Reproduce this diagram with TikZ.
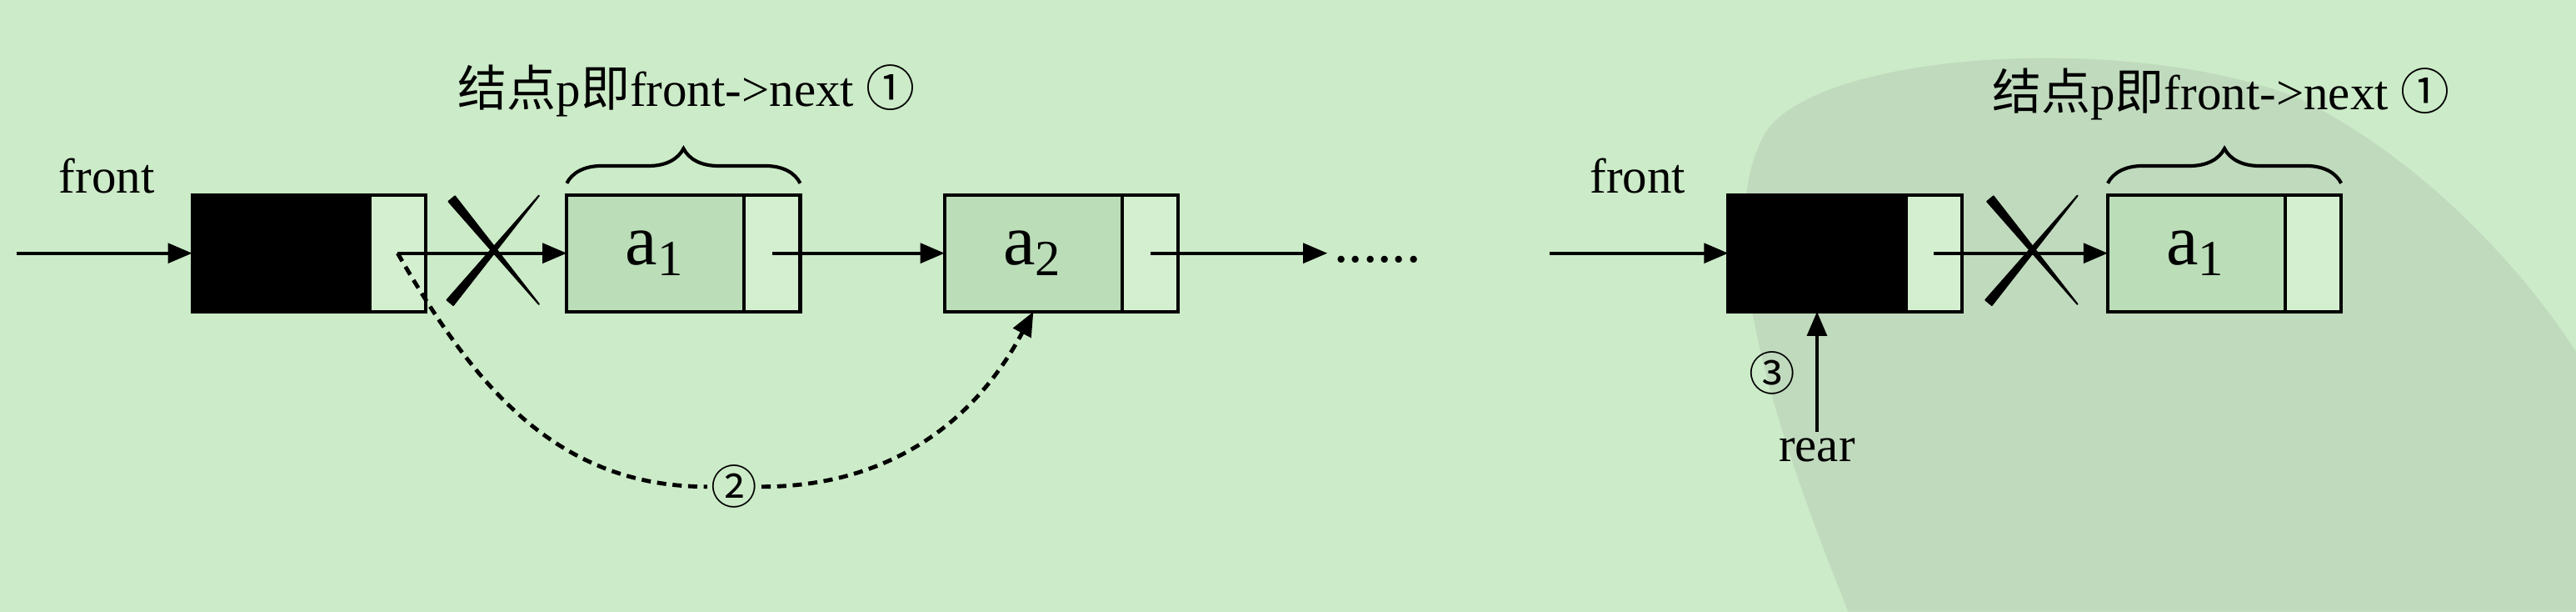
\documentclass[tikz,border=0pt]{standalone}
\usepackage{fontspec}
\setmainfont{Liberation Serif}
\newfontfamily\cjk{Noto Sans CJK SC}
\usepackage{tikz}
\usetikzlibrary{
  calc,
  positioning,
  arrows.meta,
  decorations.pathreplacing
}
\definecolor{bgcol}{RGB}{204,235,200}
\definecolor{wmcol}{RGB}{192,218,189}
\definecolor{datacol}{RGB}{187,221,184}
\definecolor{ptrcol}{RGB}{212,238,208}

\begin{document}
\begin{tikzpicture}[x=0.01cm, y=0.01cm]
  \tikzset{
    cell/.style={draw, line width=0.6pt, minimum height=0.71cm,
      inner sep=0pt, outer sep=0pt},
    headcell/.style={cell, fill=black, minimum width=1.08cm},
    datacell/.style={cell, fill=datacol, minimum width=1.08cm,
      font=\fontsize{12.5}{14}\selectfont},
    ptrcell/.style={cell, fill=ptrcol, minimum width=0.34cm},
    link/.style={-{Triangle[length=4.2pt,width=3.4pt]}, line width=0.6pt},
    dashlink/.style={line width=0.7pt, dash pattern=on 1.6pt off 1.1pt},
    lbl/.style={font=\fontsize{8.5}{10}\selectfont, inner sep=1pt},
    num/.style={font=\cjk\fontsize{8}{9}\selectfont, inner sep=0.5pt},
    bracket/.style={decorate, decoration={brace, amplitude=6pt},
      line width=0.6pt},
  }

  \fill[bgcol] (0,0) rectangle (1568,-372);
  \useasboundingbox (0,0) rectangle (1568,-372);
  % watermark
  \fill[wmcol] (1125,-372) .. controls (1080,-260) and (1040,-140) .. (1075,-80)
    .. controls (1110,-30) and (1300,-20) .. (1400,-60)
    .. controls (1480,-100) and (1540,-170) .. (1568,-214)
    -- (1568,-372) -- cycle;

  % left: p = front->next, then front->next = p->next
  \node[headcell] (h1) at (171,-154) {};
  \node[ptrcell, right=0pt of h1] (h1p) {};
  \node[datacell, anchor=west] (a1) at (345,-154) {a\textsubscript{1}};
  \node[ptrcell, right=0pt of a1] (a1p) {};
  \node[datacell, anchor=west] (a2) at (575,-154) {a\textsubscript{2}};
  \node[ptrcell, right=0pt of a2] (a2p) {};
  \node[lbl, anchor=west, font=\fontsize{10}{12}\selectfont] (more)
    at (808,-158) {......};

  \node[lbl] (front1) at (65,-107) {front};
  \coordinate (in1) at (10,-154);
  \draw[link] (in1) -- (h1.west);
  \draw[link] (h1p.center) -- (a1.west);
  \draw[link] (a1p.center) -- (a2.west);
  \draw[link] (a2p.center) -- (a2p.center -| more.west);

  \draw[bracket] ([yshift=2pt]a1.north west) -- ([yshift=2pt]a1p.north east);
  \node[lbl] (p1) at (418,-55) {{\cjk 结点}p{\cjk 即}front->next {\cjk ①}};

  \node[num] (n2) at (447,-296) {②};
  \draw[dashlink] (h1p.center) to[out=-60,in=180] (n2.west);
  \draw[dashlink, -{Triangle[length=4.2pt,width=3.4pt]}]
    (n2.east) to[out=0,in=-118] (a2.south);

  % right: only one node left, rear = front
  \node[headcell] (h2) at (1106,-154) {};
  \node[ptrcell, right=0pt of h2] (h2p) {};
  \node[datacell, anchor=west] (b1) at (1283,-154) {a\textsubscript{1}};
  \node[ptrcell, right=0pt of b1] (b1p) {};

  \node[lbl] (front2) at (997,-107) {front};
  \coordinate (in2) at (943,-154);
  \draw[link] (in2) -- (h2.west);
  \draw[link] (h2p.center) -- (b1.west);

  \draw[bracket] ([yshift=2pt]b1.north west) -- ([yshift=2pt]b1p.north east);
  \node[lbl] (p2) at (1352,-57) {{\cjk 结点}p{\cjk 即}front->next {\cjk ①}};

  \node[lbl] (rear) at (1106,-274) {rear};
  \draw[link] (rear.north) -- (h2.south);
  \node[num] (n3) at (1079,-227) {③};

  % crossed-out links
  \coordinate (x1) at ($(h1p.east)!0.5!(a1.west)$);
  \coordinate (x2) at ($(h2p.east)!0.5!(b1.west)$);
  \foreach \c in {x1,x2} {
    \coordinate (s1) at ($(\c)+(-27,33)$);
    \coordinate (e1) at ($(\c)+(26,-31)$);
    \coordinate (s2) at ($(\c)+(-28,-30)$);
    \coordinate (e2) at ($(\c)+(26,35)$);
    \filldraw[line width=0.3pt, line join=round]
      ($(s1)!0.7pt!90:(e1)$) -- (e1) -- ($(s1)!0.7pt!-90:(e1)$) -- cycle;
    \filldraw[line width=0.3pt, line join=round]
      ($(s2)!0.7pt!90:(e2)$) -- (e2) -- ($(s2)!0.7pt!-90:(e2)$) -- cycle;
  }
\end{tikzpicture}
\end{document}
